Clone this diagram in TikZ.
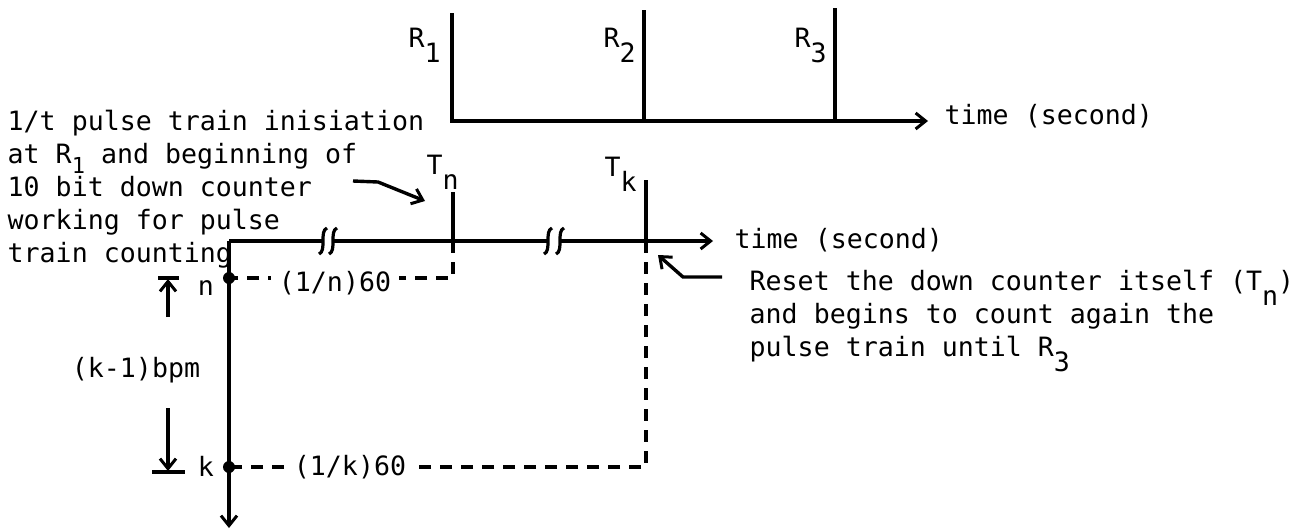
\documentclass[tikz,border=0pt]{standalone}
\usepackage{fontspec}
\setmonofont{DejaVu Sans Mono}
\usetikzlibrary{arrows.meta}
\newcommand\sbx[1]{\raisebox{-0.6em}{#1}}
\newcommand\sbs[1]{\raisebox{-0.4em}{\fontsize{11}{11}\selectfont #1}}
\begin{document}
\begin{tikzpicture}[x=0.5pt,y=-0.5pt,
  font=\ttfamily\fontsize{13.3}{16.5}\selectfont,
  line width=1.7pt,
  txt/.style={inner sep=0pt,anchor=base west},
  ctxt/.style={inner sep=0pt,anchor=base},
  lbl/.style={fill=white,inner xsep=4pt,inner ysep=1pt,anchor=center},
  arr/.style={-{Straight Barb[length=5pt,width=8pt,line width=1.5pt]}},
  dsh/.style={line width=1.6pt,dash pattern=on 6pt off 4.5pt},
  brk/.style={line width=1.6pt}]
\useasboundingbox (0,0) rectangle (1307,530);

% ---------- top time axis ----------
\coordinate (r1t) at (452,13);
\coordinate (o1)  at (452,121);
\coordinate (a1)  at (928,121);
\coordinate (r2t) at (644,10);
\coordinate (r2b) at (644,121);
\coordinate (r3t) at (835,8);
\coordinate (r3b) at (835,121);
\draw[arr] (r1t) -- (o1) -- (a1);
\draw (r2t) -- (r2b);
\draw (r3t) -- (r3b);
\node[txt] (R1) at (407,47) {R\sbx{1}};
\node[txt] (R2) at (602,47) {R\sbx{2}};
\node[txt] (R3) at (793,47) {R\sbx{3}};
\node[txt] (time1) at (943,124) {time (second)};

% ---------- left explanation ----------
\node[txt] (l1) at (6,130) {1/t pulse train inisiation};
\node[txt] (l2) at (6,163) {at R\sbs{1} and beginning of};
\node[txt] (l3) at (6,196) {10 bit down counter};
\node[txt] (l4) at (6,229) {working for pulse};
\node[txt] (l5) at (6,262) {train counting};

% ---------- second axis ----------
\coordinate (o2)  at (229,241);
\coordinate (yb)  at (229,528);
\coordinate (b1a) at (324,241);
\coordinate (b1b) at (332,241);
\coordinate (b2a) at (549,241);
\coordinate (b2b) at (559,241);
\coordinate (a2)  at (713,241);
\coordinate (tnt) at (453,192);
\coordinate (tnb) at (453,241);
\coordinate (tkt) at (646,180);
\coordinate (tkb) at (646,241);
\coordinate (nd)  at (229,278);
\coordinate (kd)  at (229,467);
\coordinate (nc)  at (453,278);
\coordinate (kc)  at (646,467);

% dashed projections
\draw[dsh] (tnb) -- (nc) -- (nd);
\draw[dsh] (tkb) -- (kc) -- (kd);
\node[lbl] (ln) at (335,283) {(1/n)60};
\node[lbl] (lk) at (350,467) {(1/k)60};

% axes
\draw[arr] (o2) -- (yb);
\draw (o2) -- (b1a);
\draw (b1b) -- (b2a);
\draw[arr] (b2b) -- (a2);
% break marks
\foreach \bx in {323,333,548,560}{
  \draw[brk] (\bx-4,254) .. controls (\bx+4,251) and (\bx-4,231) .. (\bx+4,228);
}
\draw (tnt) -- (tnb);
\draw (tkt) -- (tkb);
\fill (nd) circle[radius=6];
\fill (kd) circle[radius=6];

\node[txt] (Tn) at (425,174) {T\sbx{n}};
\node[txt] (Tk) at (603,176) {T\sbx{k}};
\node[txt] (time2) at (733,248) {time (second)};
\node[ctxt] (nl) at (206,295) {n};
\node[ctxt] (kl) at (206,476) {k};

% pointer arrows
\coordinate (p1) at (353,181);
\coordinate (p2) at (378,182);
\coordinate (p3) at (425,201);
\draw[arr] (p1) -- (p2) -- (p3);
\coordinate (q1) at (722,277);
\coordinate (q2) at (683,277);
\coordinate (q3) at (658,255);
\draw[arr] (q1) -- (q2) -- (q3);

% right explanation
\node[txt] (m1) at (748,290) {Reset the down counter itself (T\sbx{n})};
\node[txt] (m2) at (748,323) {and begins to count again the};
\node[txt] (m3) at (748,356) {pulse train until R\sbx{3}};

% (k-1)bpm dimension
\coordinate (u1) at (158,278);
\coordinate (u2) at (179,278);
\coordinate (u3) at (168,279);
\coordinate (u4) at (168,317);
\coordinate (w1) at (152,472);
\coordinate (w2) at (185,472);
\coordinate (w3) at (168,471);
\coordinate (w4) at (168,408);
\draw (u1) -- (u2);
\draw[arr] (u4) -- (u3);
\draw (w1) -- (w2);
\draw[arr] (w4) -- (w3);
\node[anchor=center,inner sep=0pt] (kb) at (136,370) {(k-1)bpm};
\end{tikzpicture}
\end{document}
